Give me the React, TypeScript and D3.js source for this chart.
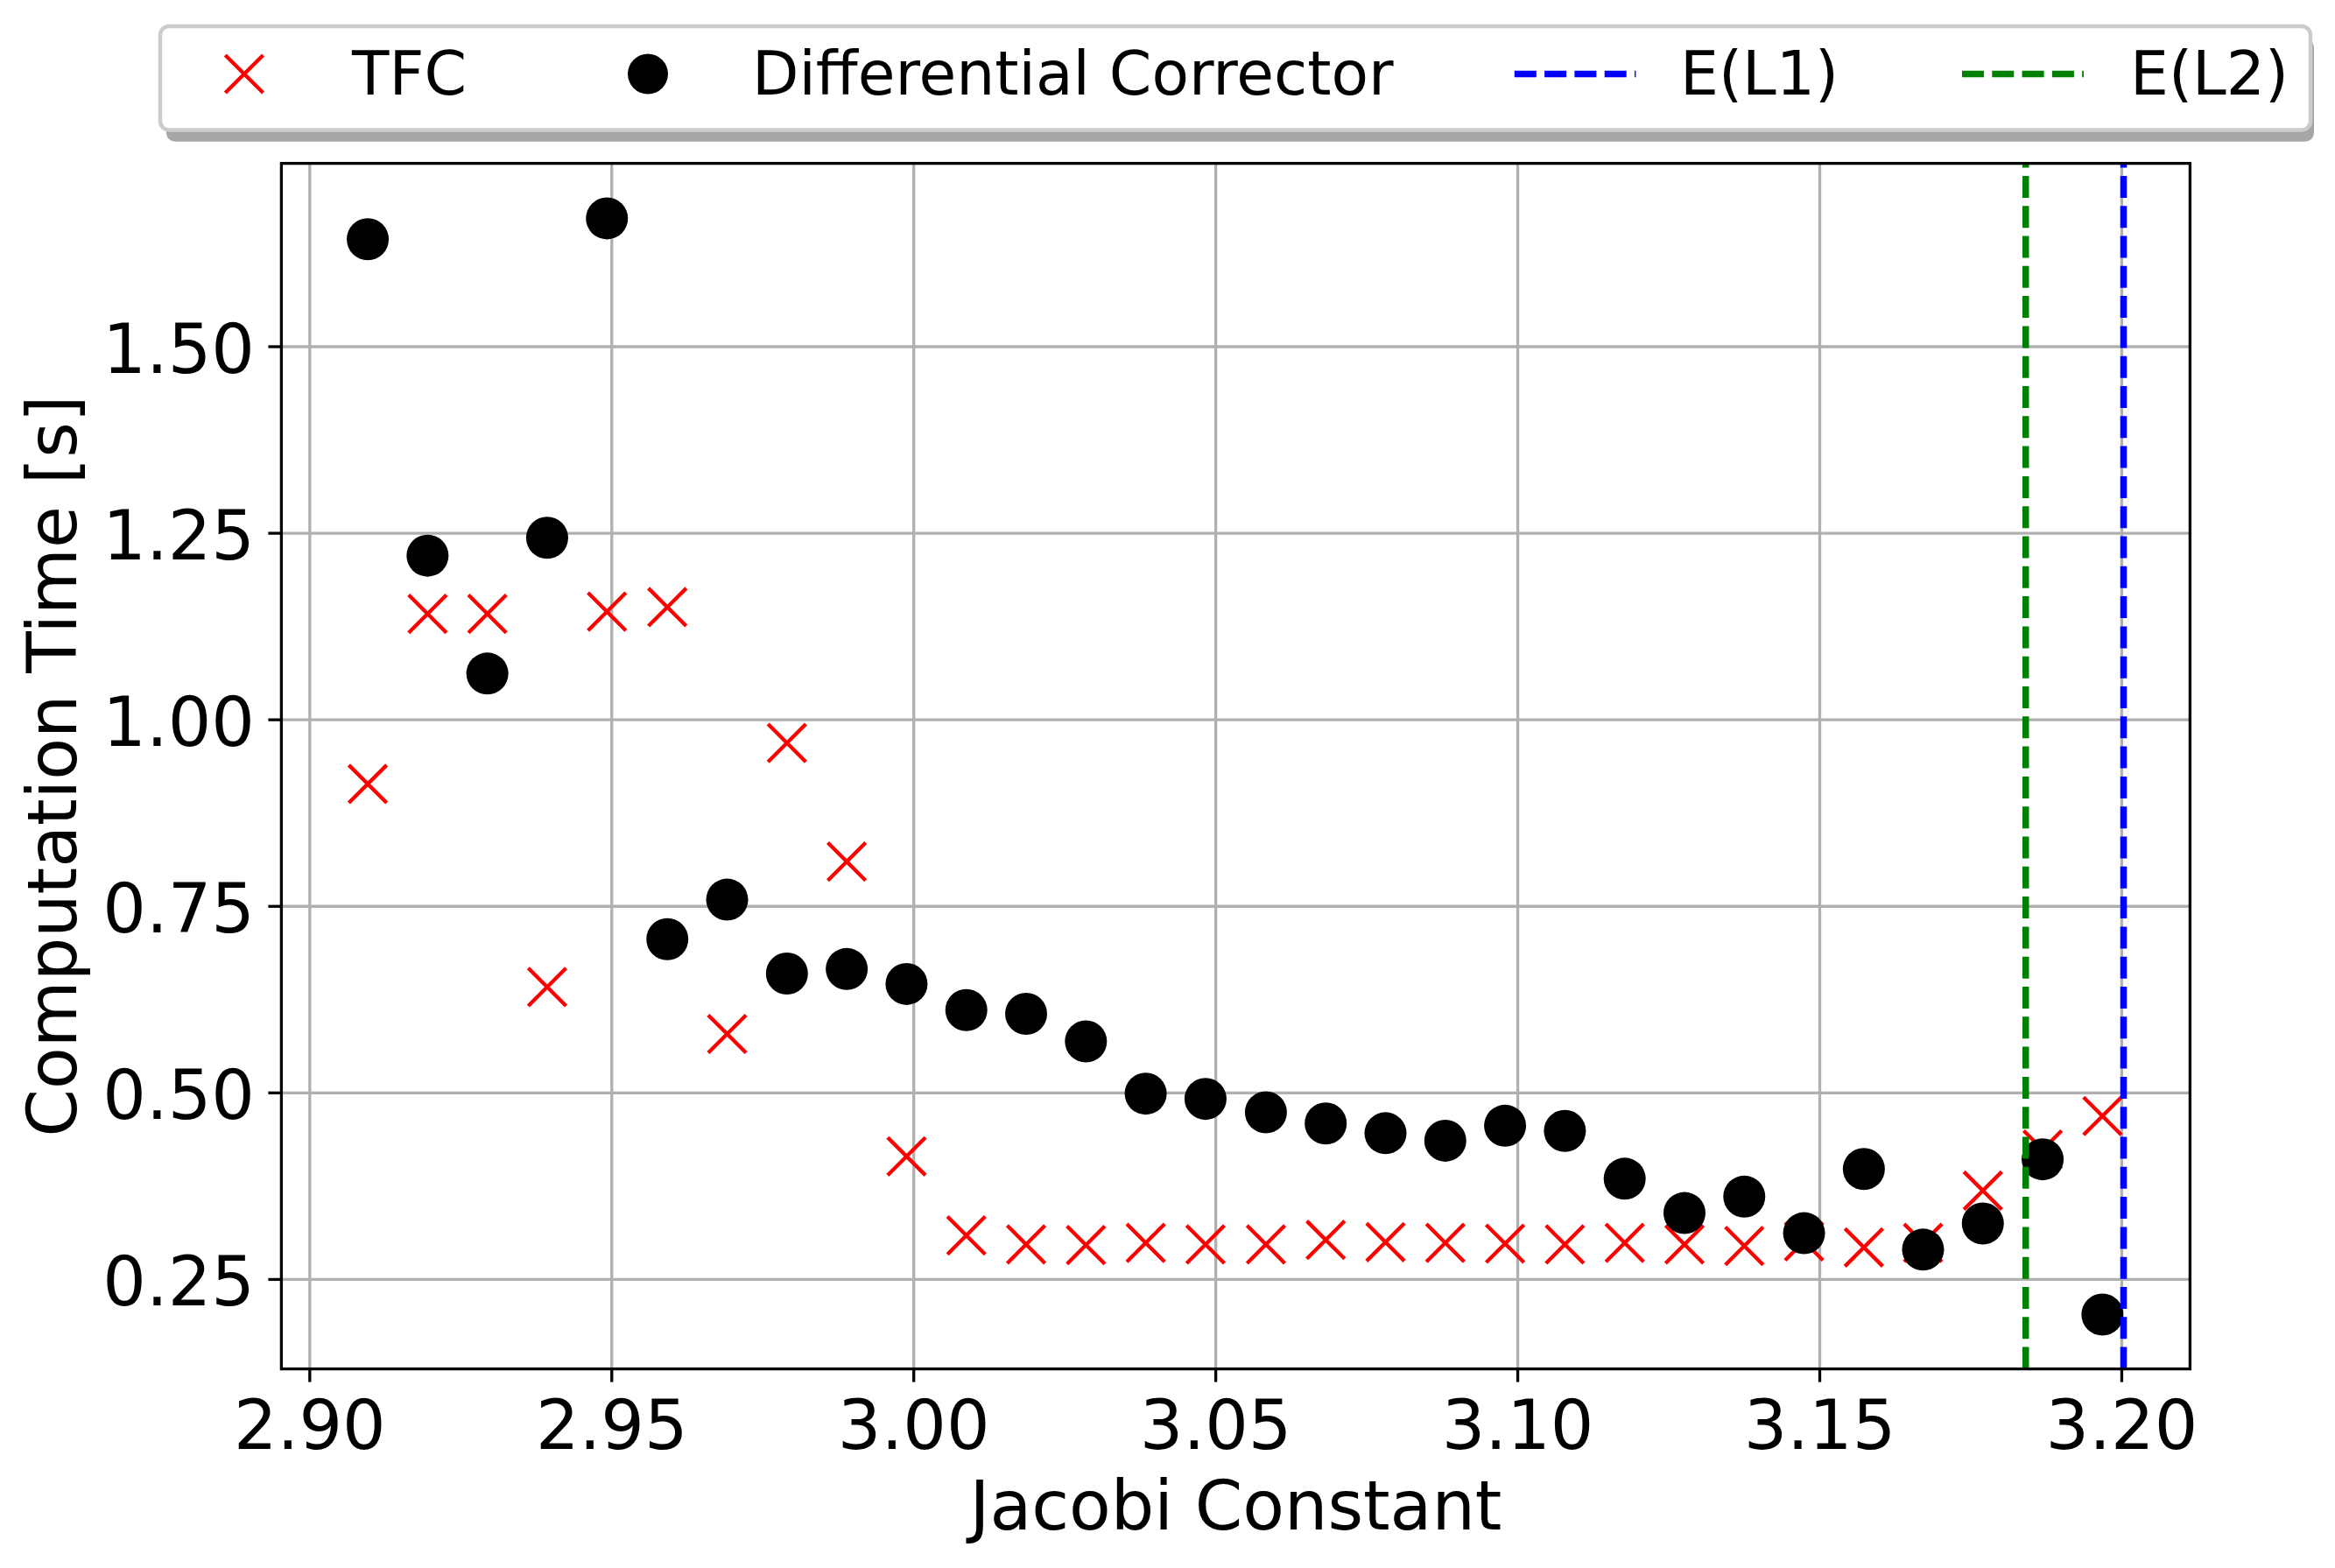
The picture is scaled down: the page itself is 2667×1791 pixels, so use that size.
import React from 'react'
import * as d3 from 'd3'

// Jacobi constant of each computed orbit
const jacobi = [
  2.9096, 2.9195, 2.9294, 2.9393, 2.9492, 2.9592, 2.9691, 2.979, 2.9889, 2.9988,
  3.0087, 3.0186, 3.0285, 3.0384, 3.0483, 3.0583, 3.0682, 3.0781, 3.088, 3.0979,
  3.1078, 3.1177, 3.1276, 3.1375, 3.1474, 3.1573, 3.1671, 3.177, 3.1869, 3.1968
]

// computation time [s]
const tfcTime = [
  0.914, 1.142, 1.142, 0.642, 1.145, 1.151, 0.579, 0.969, 0.81, 0.415,
  0.309, 0.297, 0.296, 0.299, 0.297, 0.297, 0.303, 0.3, 0.299, 0.298,
  0.297, 0.299, 0.297, 0.295, 0.301, 0.293, 0.299, 0.369, 0.424, 0.469
]
const dcTime = [
  1.644, 1.22, 1.062, 1.244, 1.672, 0.706, 0.759, 0.66, 0.666, 0.646,
  0.611, 0.606, 0.569, 0.499, 0.492, 0.474, 0.459, 0.446, 0.436, 0.456,
  0.449, 0.385, 0.339, 0.361, 0.312, 0.398, 0.29, 0.325, 0.411, 0.203
]

const energyL1 = 3.2003
const energyL2 = 3.1841

const xTicks = [2.9, 2.95, 3.0, 3.05, 3.1, 3.15, 3.2]
const yTicks = [0.25, 0.5, 0.75, 1.0, 1.25, 1.5]

const xLimits: [number, number] = [2.8953, 3.2113]
const yLimits: [number, number] = [0.1301, 1.7457]

const W = 2667
const H = 1791
const FONT = '"DejaVu Sans", Verdana, sans-serif'
const GRID = '#b0b0b0'
const DASH = '25 9.3'

function XMark({ cx, cy, s = 21.6 }: { cx: number; cy: number; s?: number }) {
  return (
    <path
      d={`M${cx - s},${cy - s}L${cx + s},${cy + s}M${cx - s},${cy + s}L${cx + s},${cy - s}`}
      stroke="#ff0000"
      strokeWidth={4.3}
      fill="none"
    />
  )
}

export default function App() {
  const left = 321.4
  const right = 2501.4
  const top = 186.6
  const bottom = 1563.6

  const x = d3.scaleLinear().domain(xLimits).range([left, right])
  const y = d3.scaleLinear().domain(yLimits).range([bottom, top])

  const legendY = 84.5
  const legendTextY = 108.3

  return (
    <svg
      width={W}
      height={H}
      viewBox={`0 0 ${W} ${H}`}
      style={{ position: 'absolute', left: 0, top: 0, background: '#fff' }}
      fontFamily={FONT}
    >
      <rect width={W} height={H} fill="#fff" />

      {/* grid */}
      {xTicks.map(t => (
        <line key={'gx' + t} x1={x(t)} x2={x(t)} y1={top} y2={bottom} stroke={GRID} strokeWidth={3.3} />
      ))}
      {yTicks.map(t => (
        <line key={'gy' + t} x1={left} x2={right} y1={y(t)} y2={y(t)} stroke={GRID} strokeWidth={3.3} />
      ))}

      {/* TFC */}
      {jacobi.map((c, i) => (
        <XMark key={'t' + i} cx={x(c)} cy={y(tfcTime[i])} />
      ))}

      {/* Differential corrector */}
      {jacobi.map((c, i) => (
        <circle key={'d' + i} cx={x(c)} cy={y(dcTime[i])} r={24} fill="#000" />
      ))}

      {/* energy levels of L1 / L2 */}
      <line x1={x(energyL1)} x2={x(energyL1)} y1={bottom} y2={top} stroke="#0000ff" strokeWidth={7.5} strokeDasharray={DASH} />
      <line x1={x(energyL2)} x2={x(energyL2)} y1={bottom} y2={top} stroke="#008000" strokeWidth={7.5} strokeDasharray={DASH} />

      {/* spines */}
      <rect x={left} y={top} width={right - left} height={bottom - top} fill="none" stroke="#000" strokeWidth={3.3} />

      {/* x axis */}
      {xTicks.map(t => (
        <g key={'xt' + t}>
          <line x1={x(t)} x2={x(t)} y1={bottom} y2={bottom + 15} stroke="#000" strokeWidth={3.3} />
          <text x={x(t)} y={1655} fontSize={78} textAnchor="middle">{t.toFixed(2)}</text>
        </g>
      ))}
      <text x={(left + right) / 2} y={1746.7} fontSize={78} textAnchor="middle">Jacobi Constant</text>

      {/* y axis */}
      {yTicks.map(t => (
        <g key={'yt' + t}>
          <line x1={left - 15} x2={left} y1={y(t)} y2={y(t)} stroke="#000" strokeWidth={3.3} />
          <text x={291} y={y(t) + 30} fontSize={78} textAnchor="end">{t.toFixed(2)}</text>
        </g>
      ))}
      <text
        transform={`translate(87.3,${(top + bottom) / 2}) rotate(-90)`}
        fontSize={78}
        textAnchor="middle"
      >
        Computation Time [s]
      </text>

      {/* legend */}
      <rect x={190} y={44} width={2453} height={117.7} rx={10} fill="#a6a6a6" />
      <rect x={183} y={30} width={2456} height={118.4} rx={10} fill="#fff" stroke="#cccccc" strokeWidth={4.5} />
      <XMark cx={278.9} cy={legendY} />
      <text x={402} y={legendTextY} fontSize={69.5}>TFC</text>
      <circle cx={740} cy={legendY} r={23} fill="#000" />
      <text x={859} y={legendTextY} fontSize={69.5}>Differential Corrector</text>
      <line x1={1729.8} x2={1868.4} y1={legendY} y2={legendY} stroke="#0000ff" strokeWidth={7.5} strokeDasharray={DASH} />
      <text x={1919} y={legendTextY} fontSize={69.5}>E(L1)</text>
      <line x1={2241} x2={2380} y1={legendY} y2={legendY} stroke="#008000" strokeWidth={7.5} strokeDasharray={DASH} />
      <text x={2433} y={legendTextY} fontSize={69.5}>E(L2)</text>
    </svg>
  )
}
